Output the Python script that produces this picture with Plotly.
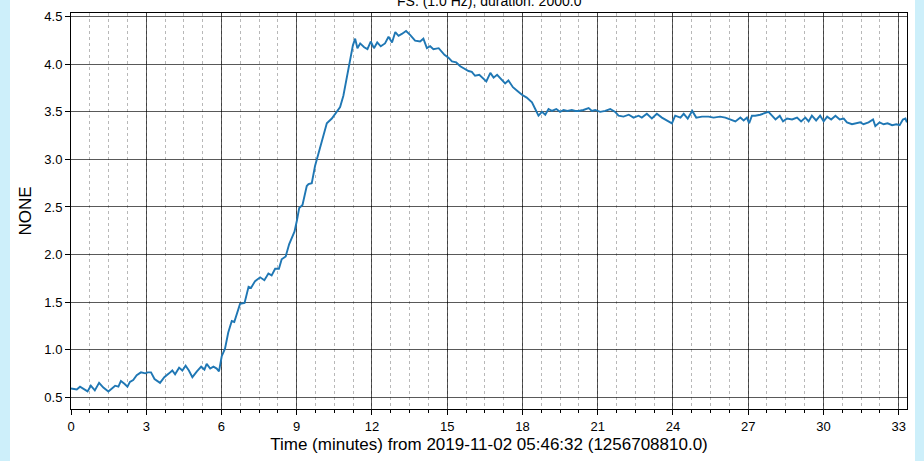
import plotly.graph_objects as go

# Time (minutes) and values
time_min = [
    0.00, 0.23, 0.36, 0.55, 0.66, 0.79, 0.95, 1.12, 1.29, 1.49, 1.62, 1.76, 1.89, 1.99,
    2.13, 2.25, 2.35, 2.48, 2.62, 2.79, 2.96, 3.06, 3.19, 3.33, 3.55, 3.72, 3.91, 4.04,
    4.15, 4.31, 4.44, 4.57, 4.70, 4.84, 5.02, 5.19, 5.32, 5.41, 5.55, 5.68, 5.81, 5.90,
    6.01, 6.14, 6.27, 6.41, 6.51, 6.60, 6.74, 6.92, 7.08, 7.18, 7.34, 7.54, 7.71, 7.87,
    8.00, 8.14, 8.29, 8.40, 8.56, 8.70, 8.91, 9.01, 9.10, 9.23, 9.40, 9.47, 9.60, 9.73,
    9.93, 10.20, 10.40, 10.59, 10.73, 10.86, 11.00, 11.13, 11.24, 11.33, 11.42, 11.53,
    11.69, 11.82, 11.95, 12.08, 12.21, 12.35, 12.52, 12.66, 12.80, 12.93, 13.06, 13.19,
    13.36, 13.52, 13.72, 13.92, 14.05, 14.19, 14.32, 14.45, 14.66, 14.89, 15.05, 15.19,
    15.36, 15.52, 15.71, 15.85, 15.98, 16.11, 16.28, 16.42, 16.56, 16.72, 16.85, 16.99,
    17.14, 17.31, 17.44, 17.62, 17.80, 17.98, 18.17, 18.38, 18.51, 18.64, 18.78, 18.91,
    19.04, 19.17, 19.35, 19.50, 19.64, 19.79, 19.97, 20.11, 20.23, 20.43, 20.64, 20.77,
    20.90, 21.10, 21.30, 21.50, 21.70, 21.83, 22.03, 22.24, 22.43, 22.63, 22.76, 22.96,
    23.16, 23.36, 23.56, 23.76, 23.96, 24.09, 24.30, 24.43, 24.59, 24.77, 24.93, 25.16,
    25.42, 25.62, 25.88, 26.09, 26.29, 26.49, 26.69, 26.82, 26.95, 27.04, 27.15, 27.28,
    27.48, 27.68, 27.81, 27.95, 28.09, 28.26, 28.39, 28.55, 28.75, 28.95, 29.11, 29.28,
    29.41, 29.54, 29.71, 29.87, 30.01, 30.15, 30.31, 30.48, 30.65, 30.81, 30.94, 31.14,
    31.31, 31.47, 31.60, 31.80, 31.98, 32.07, 32.24, 32.40, 32.56, 32.74, 32.91, 33.04,
    33.17, 33.27, 33.33,
]
values = [
    0.59, 0.58, 0.61, 0.58, 0.56, 0.62, 0.57, 0.65, 0.60, 0.56, 0.59, 0.62, 0.61, 0.67,
    0.64, 0.61, 0.66, 0.68, 0.73, 0.76, 0.75, 0.76, 0.76, 0.69, 0.65, 0.71, 0.75, 0.78,
    0.74, 0.81, 0.78, 0.83, 0.78, 0.71, 0.77, 0.82, 0.79, 0.85, 0.80, 0.82, 0.80, 0.77,
    0.93, 1.01, 1.18, 1.30, 1.29, 1.37, 1.48, 1.49, 1.66, 1.65, 1.72, 1.76, 1.73, 1.80,
    1.78, 1.85, 1.85, 1.95, 1.98, 2.11, 2.24, 2.36, 2.49, 2.52, 2.72, 2.74, 2.75, 2.93,
    3.12, 3.38, 3.43, 3.50, 3.55, 3.67, 3.86, 4.04, 4.20, 4.27, 4.17, 4.22,
    4.18, 4.16, 4.24, 4.17, 4.23, 4.19, 4.22, 4.29, 4.23, 4.34, 4.30, 4.32,
    4.35, 4.31, 4.25, 4.24, 4.27, 4.17, 4.19, 4.16, 4.17, 4.10, 4.07, 4.03,
    4.02, 3.98, 3.95, 3.93, 3.92, 3.88, 3.89, 3.86, 3.82, 3.91, 3.86, 3.89,
    3.85, 3.80, 3.83, 3.76, 3.72, 3.68, 3.65, 3.60, 3.53, 3.46, 3.50, 3.47,
    3.53, 3.51, 3.53, 3.50, 3.52, 3.51, 3.52, 3.51, 3.51, 3.52, 3.54, 3.51,
    3.52, 3.50, 3.51, 3.53, 3.50, 3.46, 3.45, 3.47, 3.44, 3.46, 3.44, 3.48,
    3.43, 3.48, 3.44, 3.41, 3.38, 3.46, 3.44, 3.48, 3.43, 3.51, 3.44, 3.45,
    3.45, 3.44, 3.45, 3.44, 3.42, 3.40, 3.44, 3.41, 3.44, 3.38, 3.46, 3.46,
    3.47, 3.49, 3.50, 3.46, 3.42, 3.46, 3.40, 3.43, 3.42, 3.44, 3.40, 3.44,
    3.40, 3.46, 3.41, 3.46, 3.40, 3.45, 3.42, 3.46, 3.42, 3.43, 3.39, 3.37,
    3.38, 3.39, 3.37, 3.39, 3.42, 3.35, 3.39, 3.37, 3.38, 3.36, 3.37, 3.36,
    3.42, 3.43, 3.39,
]

x_ticks = [0, 3, 6, 9, 12, 15, 18, 21, 24, 27, 30, 33]
y_ticks = [0.5, 1.0, 1.5, 2.0, 2.5, 3.0, 3.5, 4.0, 4.5]
title_text = "FS. (1.0 Hz), duration: 2000.0"
x_title = "Time (minutes) from 2019-11-02 05:46:32 (1256708810.0)"
y_title = "NONE"

W, H = 924, 461
L, R, T, B = 71, 17, 9, 52
pw = W - L - R
ph = H - T - B

fig = go.Figure()
fig.add_trace(go.Scatter(
    x=time_min, y=values, mode="lines",
    line=dict(color="#1f77b4", width=1.9),
    showlegend=False, hoverinfo="skip",
))

font_family = "Liberation Sans, Arial, sans-serif"

fig.update_layout(
    width=W, height=H,
    margin=dict(l=L, r=R, t=T, b=B, pad=0),
    paper_bgcolor="#cdeffa",
    plot_bgcolor="white",
    font=dict(family=font_family, color="black", size=13),
    xaxis=dict(
        range=[0, 33.333], tickvals=x_ticks, ticktext=[str(v) for v in x_ticks],
        showgrid=True, gridcolor="rgba(0,0,0,0.65)", gridwidth=0.8,
        showline=True, linecolor="black", linewidth=1, mirror=True,
        ticks="outside", ticklen=5, tickcolor="black", tickwidth=1,
        zeroline=False,
        minor=dict(dtick=0.75, tick0=0, showgrid=True, gridcolor="rgba(0,0,0,0.28)",
                   griddash="dot", gridwidth=0.8, ticks="outside", ticklen=3,
                   tickcolor="black"),
        title=dict(text=x_title, font=dict(size=17), standoff=5),
        tickfont=dict(size=13),
    ),
    yaxis=dict(
        range=[0.375, 4.54], tickvals=y_ticks, ticktext=[f"{v:.1f}" for v in y_ticks],
        showgrid=True, gridcolor="rgba(0,0,0,0.65)", gridwidth=0.8,
        showline=True, linecolor="black", linewidth=1, mirror=True,
        ticks="outside", ticklen=5, tickcolor="black", tickwidth=1,
        zeroline=False,
        title=dict(text=y_title, font=dict(size=17), standoff=8),
        tickfont=dict(size=13),
    ),
    shapes=[dict(
        type="rect", xref="paper", yref="paper", layer="below",
        x0=(10 - L) / pw, x1=(915 - L) / pw,
        y0=-(B + 5) / ph, y1=(ph + T + 5) / ph,
        fillcolor="white", line=dict(width=0),
    )],
    annotations=[dict(
        text=title_text, xref="paper", yref="paper", x=0.5,
        y=1 + (T + 3) / ph, xanchor="center", yanchor="middle",
        showarrow=False, font=dict(size=14, family=font_family),
    )],
)

fig.write_html(
    "out.html",
    config={"displayModeBar": False},
    post_script="document.body.style.margin='0';document.body.style.padding='0';",
)
